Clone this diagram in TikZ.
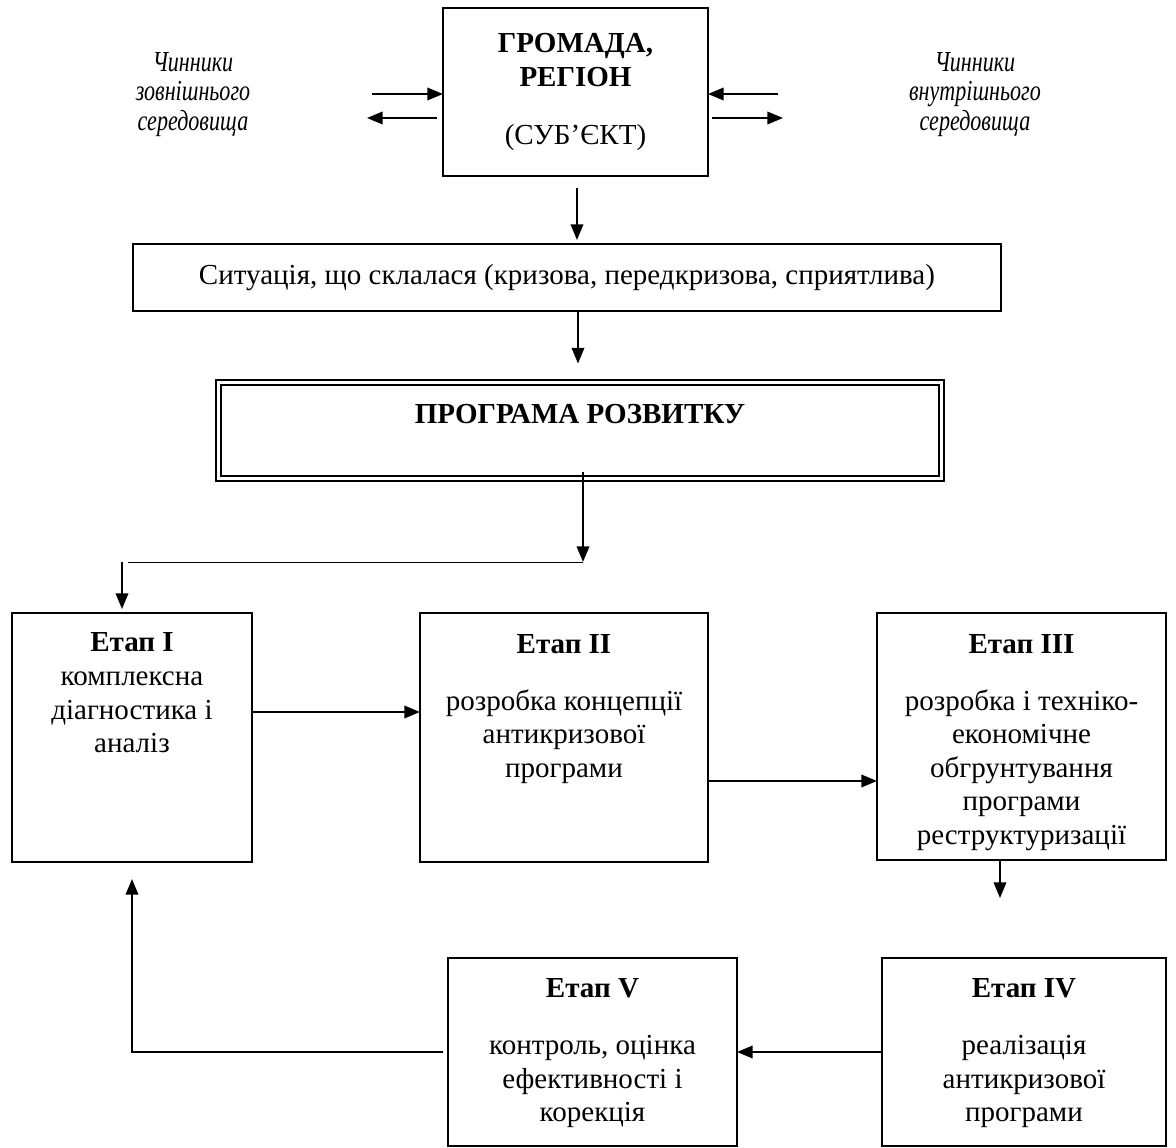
\documentclass[tikz,border=0pt]{standalone}
\usepackage{fontspec}
\usepackage{graphicx}
\setmainfont{Liberation Serif}
\usetikzlibrary{positioning,calc,arrows.meta}
\newcommand{\pxl}{0.4135pt}
\tikzset{
  box/.style={draw, line width=0.8pt, inner sep=0pt, outer sep=0pt},
  txt/.style={align=center, inner sep=0pt, font=\fontsize{12pt}{13.9pt}\selectfont},
  side/.style={align=center, inner sep=0pt, font=\fontsize{12pt}{12.4pt}\selectfont\itshape},
  arr/.style={line width=0.8pt, -{Triangle[length=6.5pt,width=5.2pt]}},
}
\begin{document}
\begin{tikzpicture}[x=\pxl,y=-\pxl]
\useasboundingbox (0,0) rectangle (1176,1148);
% subject and factors
\node[box, txt, minimum width=265*\pxl, minimum height=168*\pxl] (grom) at (575.5,92)
  {\textbf{ГРОМАДА,}\\\textbf{РЕГІОН}\\[10pt](СУБ’ЄКТ)};
\node[side] (ext) at (193,95)
  {\scalebox{0.76}[1]{\begin{tabular}{@{}c@{}}Чинники\\зовнішнього\\середовища\end{tabular}}};
\node[side] (int) at (975,95)
  {\scalebox{0.76}[1]{\begin{tabular}{@{}c@{}}Чинники\\внутрішнього\\середовища\end{tabular}}};
\draw[arr] ($(grom.west)+(-71,2)$) -- ($(grom.west)+(0,2)$);
\draw[arr] ($(grom.west)+(-6,26)$) -- ($(grom.west)+(-76,26)$);
\draw[arr] ($(grom.east)+(70,2)$) -- ($(grom.east)+(0,2)$);
\draw[arr] ($(grom.east)+(4,26)$) -- ($(grom.east)+(75,26)$);
% situation and programme
\node[box, txt, minimum width=868*\pxl, minimum height=67*\pxl] (sit) at (567,277.5)
  {Ситуація, що склалася (кризова, передкризова, сприятлива)};
\node[box, txt, double, double distance=1.3pt, minimum width=723*\pxl, minimum height=96*\pxl] (prog) at (580,430.5)
  {\textbf{ПРОГРАМА РОЗВИТКУ}\\\mbox{}};
\draw[arr] ($(grom.south)+(1.5,12)$) coordinate (c0) -- ($(c0 |- sit.north)+(0,-4)$);
\draw[arr] ($(sit.south)+(11,0)$) coordinate (c1) -- ($(c1 |- prog.north)+(0,-19)$);
% stages
\node[box, minimum width=240*\pxl, minimum height=249*\pxl] (s1) at (132,737.5) {};
\node[box, minimum width=288*\pxl, minimum height=249*\pxl] (s2) at (564,737.5) {};
\node[box, minimum width=289*\pxl, minimum height=247*\pxl] (s3) at (1021.5,736.5) {};
\node[box, minimum width=284*\pxl, minimum height=188*\pxl] (s4) at (1024,1052) {};
\node[box, minimum width=289*\pxl, minimum height=188*\pxl] (s5) at (592.5,1052) {};
\node[txt, below=8pt of s1.north] (t1) {\textbf{Етап I}\\комплексна\\діагностика і\\аналіз};
\node[txt, below=8.5pt of s2.north] (t2) {\textbf{Етап II}\\[9.7pt]розробка концепції\\антикризової\\програми};
\node[txt, below=8.5pt of s3.north] (t3) {\textbf{Етап III}\\[9.7pt]розробка і техніко-\\економічне\\обгрунтування\\програми\\реструктуризації};
\node[txt, below=8.2pt of s4.north] (t4) {\textbf{Етап IV}\\[9.7pt]реалізація\\антикризової\\програми};
\node[txt, below=8.2pt of s5.north] (t5) {\textbf{Етап V}\\[9.7pt]контроль, оцінка\\ефективності і\\корекція};
% connectors
\draw[arr] ($(s1.north)+(-10,-51)$) coordinate (c3) -- ($(s1.north)+(-10,-4)$);
\coordinate (split) at ($(c3 -| prog.south)+(3,0)$);
\draw[arr] ($(prog.south)+(3,-6)$) -- (split);
\draw ($(c3)+(6,0)$) -- (split);
\draw[arr] ($(s1.east)+(0,-25.5)$) coordinate (c12) -- (c12 -| s2.west);
\draw[arr] ($(s2.east)+(0,43.5)$) coordinate (c23) -- (c23 -| s3.west);
\draw[arr] ($(s3.south)+(-21.5,0)$) coordinate (c34) -- ($(c34)+(0,38)$);
\draw[arr] (s4.west) -- (s5.east);
\draw[arr] ($(s5.west)+(-5,0)$) -| ($(s1.south)+(0,17)$);
\end{tikzpicture}
\end{document}
